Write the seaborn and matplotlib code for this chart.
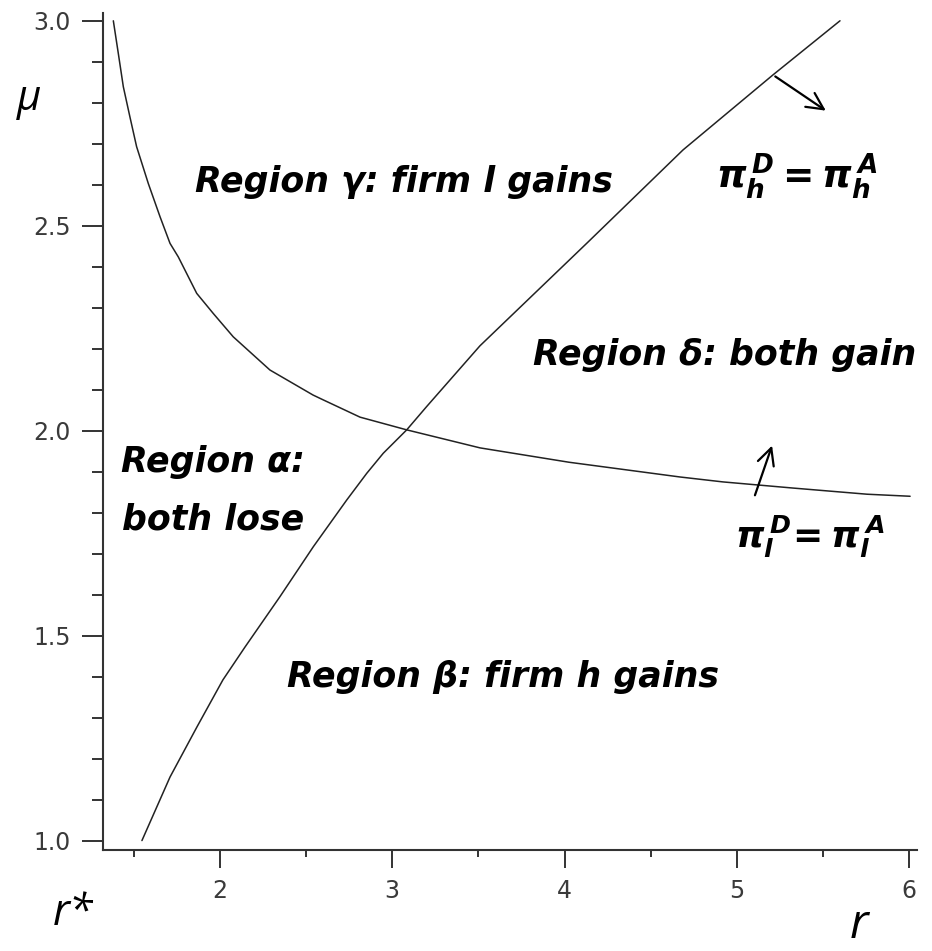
import numpy as np
import pandas as pd
import matplotlib
matplotlib.use('Agg')
import matplotlib.pyplot as plt
from matplotlib.ticker import FixedLocator, MultipleLocator
import seaborn as sns

# curve pi_l^D = pi_l^A
r_l = [1.381, 1.410, 1.439, 1.477, 1.516, 1.584, 1.652, 1.710, 1.758, 1.865,
       1.961, 2.077, 2.290, 2.540, 2.600, 2.813, 3.084, 3.510, 4.026,
       4.671, 4.920, 5.327, 5.756, 6.006]
mu_l = [3.0, 2.920, 2.839, 2.766, 2.693, 2.603, 2.522, 2.457, 2.424, 2.335,
        2.286, 2.229, 2.148, 2.087, 2.075, 2.033, 2.002, 1.958, 1.923,
        1.887, 1.875, 1.860, 1.845, 1.840]

# curve pi_h^D = pi_h^A
r_h = [1.547, 1.710, 1.866, 2.017, 2.145, 2.348, 2.542, 2.639, 2.736, 2.852,
       2.948, 3.084, 3.200, 3.509, 4.131, 4.688, 5.210, 5.599]
mu_h = [1.0, 1.155, 1.277, 1.392, 1.472, 1.595, 1.717, 1.774, 1.831, 1.896,
        1.945, 2.002, 2.059, 2.207, 2.458, 2.685, 2.868, 3.0]

x_major = [2, 3, 4, 5, 6]
y_major = [1.0, 1.5, 2.0, 2.5, 3.0]
y_labels = ['1.0', '1.5', '2.0', '2.5', '3.0']

sns.set_style('white')
plt.rcParams['font.family'] = ['Open Sans', 'DejaVu Sans']
plt.rcParams['text.color'] = 'black'
plt.rcParams['mathtext.fontset'] = 'custom'
plt.rcParams['mathtext.it'] = 'DejaVu Sans:bold:italic'
plt.rcParams['mathtext.rm'] = 'DejaVu Sans:bold:italic'
plt.rcParams['mathtext.bf'] = 'DejaVu Sans:bold:italic'

fig = plt.figure(figsize=(9.32, 9.51), dpi=100)
ax = fig.add_axes([103 / 932, 1 - 850 / 951, (917 - 103) / 932, (850 - 13) / 951])

df_l = pd.DataFrame({'r': r_l, 'mu': mu_l})
df_h = pd.DataFrame({'r': r_h, 'mu': mu_h})
sns.lineplot(data=df_l, x='r', y='mu', ax=ax, color='#222222', lw=1.1, estimator=None)
sns.lineplot(data=df_h, x='r', y='mu', ax=ax, color='#222222', lw=1.1, estimator=None)

ax.set_xlim(1.321, 6.046)
ax.set_ylim(0.977, 3.019)
for s in ['top', 'right']:
    ax.spines[s].set_visible(False)
for s in ['left', 'bottom']:
    ax.spines[s].set_linewidth(1.5)
    ax.spines[s].set_color('#333333')

ax.xaxis.set_major_locator(FixedLocator(x_major))
ax.xaxis.set_minor_locator(MultipleLocator(0.5))
ax.yaxis.set_major_locator(FixedLocator(y_major))
ax.yaxis.set_minor_locator(MultipleLocator(0.1))
ax.set_yticklabels(y_labels)
ax.tick_params(axis='both', which='both', direction='out', color='#333333', width=1.4,
               labelcolor='#3a3a3a', labelsize=17, bottom=True, left=True)
ax.tick_params(axis='x', which='major', length=13, pad=8)
ax.tick_params(axis='x', which='minor', length=5)
ax.tick_params(axis='y', which='major', length=15, pad=8)
ax.tick_params(axis='y', which='minor', length=8)
for lab in ax.get_xticklabels() + ax.get_yticklabels():
    lab.set_family('DejaVu Sans')
ax.set_xlabel('')
ax.set_ylabel('')

bi = dict(fontsize=25, fontweight='bold', fontstyle='italic', color='black',
          family='DejaVu Sans', va='baseline', transform=fig.transFigure)
ax.text(195 / 932, 1 - 192 / 951, 'Region γ: firm l gains', **bi)
ax.text(533 / 932, 1 - 365 / 951, 'Region δ: both gain', **bi)
ax.text(121 / 932, 1 - 472 / 951, 'Region α:', **bi)
ax.text(122 / 932, 1 - 530 / 951, 'both lose', **bi)
ax.text(287 / 932, 1 - 687 / 951, 'Region β: firm h gains', **bi)
ax.text(716 / 932, 1 - 188 / 951, r'$\pi_h^{\,D} = \pi_h^{\,A}$', fontsize=27,
        color='black', va='baseline', transform=fig.transFigure)
ax.text(735 / 932, 1 - 548 / 951, r'$\pi_l^{\,D}\!= \pi_l^{\,A}$', fontsize=26,
        color='black', va='baseline', transform=fig.transFigure)

it = dict(fontstyle='italic', color='black', va='baseline')
fig.text(17 / 932, 1 - 110 / 951, 'μ', fontsize=30, **it)
fig.text(53 / 932, 1 - 925 / 951, 'r*', fontsize=31, **it)
fig.text(850 / 932, 1 - 938 / 951, 'r', fontsize=34, **it)

# normal-direction arrows
ax.annotate('', xy=(5.530, 2.777), xytext=(5.210, 2.868),
            arrowprops=dict(arrowstyle='->', lw=1.6, color='black', mutation_scale=30))
ax.annotate('', xy=(5.210, 1.970), xytext=(5.100, 1.836),
            arrowprops=dict(arrowstyle='->', lw=1.6, color='black', mutation_scale=30))

fig.savefig('out.png', dpi=100)
